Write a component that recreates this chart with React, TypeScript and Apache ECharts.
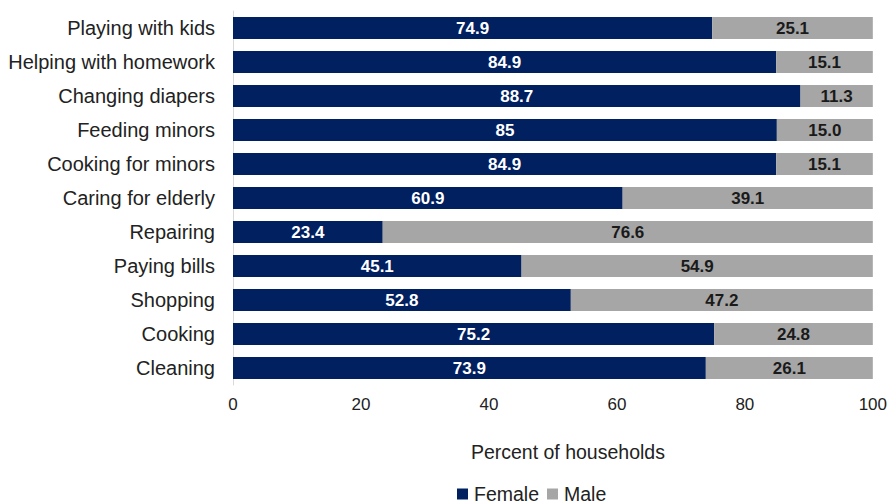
import React, { useEffect, useRef } from "react";
import * as echarts from "echarts";

const categories = [
  "Playing with kids",
  "Helping with homework",
  "Changing diapers",
  "Feeding minors",
  "Cooking for minors",
  "Caring for elderly",
  "Repairing",
  "Paying bills",
  "Shopping",
  "Cooking",
  "Cleaning",
];
const femaleValues = [74.9, 84.9, 88.7, 85, 84.9, 60.9, 23.4, 45.1, 52.8, 75.2, 73.9];
const maleValues = [25.1, 15.1, 11.3, 15.0, 15.1, 39.1, 76.6, 54.9, 47.2, 24.8, 26.1];
const femaleLabels = ["74.9", "84.9", "88.7", "85", "84.9", "60.9", "23.4", "45.1", "52.8", "75.2", "73.9"];
const maleLabels = ["25.1", "15.1", "11.3", "15.0", "15.1", "39.1", "76.6", "54.9", "47.2", "24.8", "26.1"];

const FONT = "Liberation Sans, Arial, sans-serif";

export default function App() {
  const ref = useRef<HTMLDivElement>(null);
  useEffect(() => {
    if (!ref.current) return;
    const chart = echarts.init(ref.current, undefined, { renderer: "svg" });
    chart.setOption({
      animation: false,
      textStyle: { fontFamily: FONT },
      grid: { left: 233, right: 16, top: 11, bottom: 119 },
      legend: {
        top: 484,
        left: 457,
        itemWidth: 11,
        itemHeight: 11,
        itemGap: 8,
        icon: "rect",
        padding: 0,
        textStyle: { fontSize: 19.5, color: "#222", fontFamily: FONT, padding: [0, 0, 0, 1] },
        data: ["Female", "Male"],
      },
      xAxis: {
        type: "value",
        min: 0,
        max: 100,
        interval: 20,
        splitLine: { show: false },
        axisLine: { show: false },
        axisTick: { show: false },
        axisLabel: { fontSize: 17, color: "#222", margin: 11, fontFamily: FONT },
        name: "Percent of households",
        nameLocation: "middle",
        nameGap: 57,
        nameTextStyle: { fontSize: 19.5, color: "#222", fontFamily: FONT, padding: [0, 0, 0, 30] },
      },
      yAxis: {
        type: "category",
        inverse: true,
        data: categories,
        axisLine: { show: true, lineStyle: { color: "#d9d9d9", width: 1 } },
        axisTick: { show: false },
        axisLabel: { fontSize: 20, color: "#222", margin: 18, fontFamily: FONT },
      },
      series: [
        {
          name: "Female",
          type: "bar",
          stack: "total",
          barCategoryGap: "35%",
          data: femaleValues,
          itemStyle: { color: "#002060" },
          label: {
            show: true,
            position: "inside",
            color: "#fff",
            fontWeight: "bold",
            fontSize: 17,
            fontFamily: FONT,
            formatter: (p: any) => femaleLabels[p.dataIndex],
          },
        },
        {
          name: "Male",
          type: "bar",
          stack: "total",
          barCategoryGap: "35%",
          data: maleValues,
          itemStyle: { color: "#a6a6a6" },
          label: {
            show: true,
            position: "inside",
            color: "#1a1a1a",
            fontWeight: "bold",
            fontSize: 17,
            fontFamily: FONT,
            formatter: (p: any) => maleLabels[p.dataIndex],
          },
        },
      ],
    });
    return () => chart.dispose();
  }, []);
  return <div ref={ref} style={{ width: 890, height: 504, position: "absolute", left: 0, top: 0 }} />;
}
